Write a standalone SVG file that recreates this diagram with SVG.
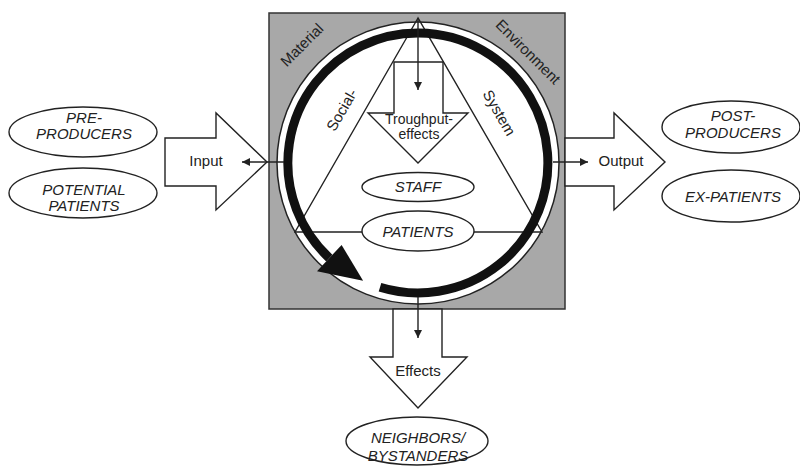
<svg xmlns="http://www.w3.org/2000/svg" width="800" height="468" viewBox="0 0 800 468">
<defs>
<style>
.ln{fill:none;stroke:#222;stroke-width:1.4}
.wf{fill:#fff;stroke:#222;stroke-width:1.4;stroke-linejoin:miter}
.t{font-family:"Liberation Sans",Arial,sans-serif;font-size:15px;fill:#222;text-anchor:middle}
.it{font-style:italic}
</style>
<marker id="ah" viewBox="0 0 10 10" refX="10" refY="5" markerWidth="9" markerHeight="8" markerUnits="userSpaceOnUse" orient="auto">
<path d="M0,0 L10,5 L0,10 z" fill="#222"/>
</marker>
</defs>
<rect width="800" height="468" fill="#fff"/>

<g id="system">
<rect x="269" y="13" width="296" height="296" fill="#a8a8a8" stroke="#333" stroke-width="1.5"/>
<circle cx="418" cy="163" r="141" fill="#fff" stroke="#222" stroke-width="1.5"/>
<polygon class="ln" points="418,18 295,232 542,232"/>
<g class="t">
<text transform="translate(302,45) rotate(-45)" y="5">Material</text>
<text transform="translate(528,52) rotate(45)" y="5">Environment</text>
<text transform="translate(342,110) rotate(-60)" y="5">Social-</text>
<text transform="translate(499,113) rotate(60)" y="5">System</text>
</g>
</g>

<g id="troughput">
<polygon class="wf" points="394,62 443,62 443,113 468,113 418,163 368,113 394,113"/>
<text class="t" x="419" y="124" style="font-size:14px">Troughput-</text>
<text class="t" x="419" y="139" style="font-size:14px">effects</text>
</g>

<g id="staff">
<ellipse class="wf" cx="418" cy="187" rx="56" ry="14.5"/>
<text class="t it" x="418" y="192">STAFF</text>
</g>
<g id="patients">
<ellipse class="wf" cx="418" cy="231" rx="56" ry="20"/>
<text class="t it" x="418" y="237">PATIENTS</text>
</g>

<g id="cycle">
<path d="M380,287.3 A130,130 0 1 0 329.3,258.1" fill="none" stroke="#111" stroke-width="9"/>
<polygon points="317,271.3 341.6,244.9 363.1,280.8" fill="#111"/>
</g>

<g id="input">
<polygon class="wf" points="165,138 216,138 216,113 267,162 216,210 216,186 165,186"/>
<text class="t" x="206" y="166">Input</text>
</g>
<g id="output">
<polygon class="wf" points="565,138 614,138 614,113 665,162 614,210 614,186 565,186"/>
<text class="t" x="621" y="166">Output</text>
</g>
<g id="effects">
<polygon class="wf" points="393,309 393,357 370,357 418,408 467,357 442,357 442,309"/>
<text class="t" x="418" y="376">Effects</text>
</g>

<g id="pre-producers">
<ellipse class="wf" cx="83" cy="132" rx="74" ry="25"/>
<text class="t it" x="84" y="123">PRE-</text>
<text class="t it" x="84" y="139">PRODUCERS</text>
</g>
<g id="potential-patients">
<ellipse class="wf" cx="83" cy="193" rx="74" ry="25"/>
<text class="t it" x="84" y="195">POTENTIAL</text>
<text class="t it" x="84" y="211">PATIENTS</text>
</g>
<g id="post-producers">
<ellipse class="wf" cx="731" cy="127" rx="69" ry="26"/>
<text class="t it" x="733" y="121">POST-</text>
<text class="t it" x="733" y="138">PRODUCERS</text>
</g>
<g id="ex-patients">
<ellipse class="wf" cx="731" cy="196" rx="69" ry="26"/>
<text class="t it" x="733" y="202">EX-PATIENTS</text>
</g>
<g id="neighbors">
<ellipse class="wf" cx="417" cy="441" rx="71" ry="24"/>
<text class="t it" x="418" y="443">NEIGHBORS/</text>
<text class="t it" x="418" y="461">BYSTANDERS</text>
</g>

<g id="connectors">
<line class="ln" x1="418" y1="18" x2="418" y2="90" marker-end="url(#ah)"/>
<line class="ln" x1="284" y1="162" x2="242" y2="162" marker-end="url(#ah)"/>
<line class="ln" x1="553" y1="162" x2="588" y2="162" marker-end="url(#ah)"/>
<line class="ln" x1="418" y1="297" x2="418" y2="338" marker-end="url(#ah)"/>
</g>
</svg>
